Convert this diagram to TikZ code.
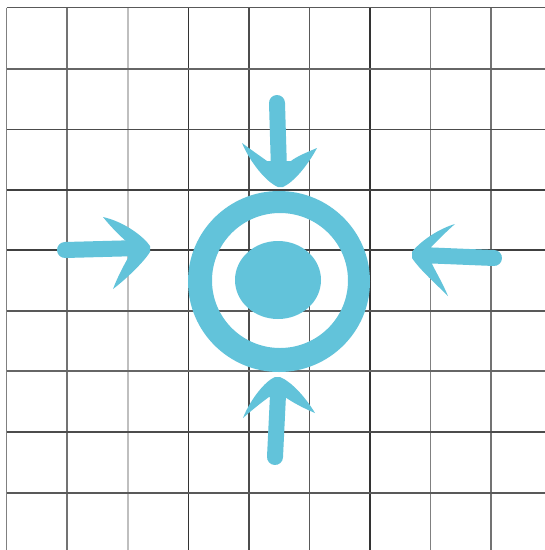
\documentclass[tikz,border=0pt]{standalone}
\definecolor{cy}{RGB}{98,195,218}
\begin{document}
\begin{tikzpicture}[x=1pt,y=-1pt,
  gridl/.style={line width=1.2pt},
  shaft/.style={cy,line width=16pt,line cap=round},
  head/.style={fill=cy}]
\useasboundingbox (0,0) rectangle (545,550);
\fill[white] (0,0) rectangle (545,550);
% grid
\foreach \x/\c in {6.5/50,67/55,128/25,188.5/80,249/70,309.5/65,370/80,430.5/50,491/55}
  \draw[gridl,black!\c] (\x,7.5) -- (\x,550);
\foreach \y/\c in {7.5/65,69/60,129.5/70,190/75,250/75,311/65,371/60,432/70,493/65}
  \draw[gridl,black!\c] (6.5,\y) -- (545,\y);
% ring
\fill[cy,even odd rule] (279,281.5) ellipse (91pt and 90.5pt) (280,280.5) ellipse (68pt and 67.5pt);
% disc
\fill[cy] (278,280) ellipse (43pt and 39pt);
% top arrow
\draw[shaft] (277,103) -- (279,170);
\fill[head] (242,143) .. controls (250,162) and (266,182) .. (278,187) -- (283,187) .. controls (294,182) and (308,165) .. (317,148) .. controls (305,153) and (296,157) .. (291,161) -- (267,161) .. controls (260,156) and (250,149) .. cycle;
% bottom arrow
\draw[shaft] (278,395) -- (275,457);
\fill[head] (243,418) .. controls (250,400) and (265,381) .. (275,377) -- (280,377) .. controls (292,382) and (306,398) .. (315,413) .. controls (303,408) and (292,402) .. (285,397) -- (269,397) .. controls (262,402) and (252,410) .. cycle;
% left arrow
\draw[shaft] (65,250) -- (140,248);
\fill[head] (103,217) .. controls (125,222) and (144,237) .. (150,246) -- (150,252) .. controls (143,263) and (125,280) .. (113,289) .. controls (118,276) and (124,265) .. (128,258) -- (127,242) .. controls (120,236) and (110,226) .. cycle;
% right arrow
\draw[shaft] (420,255) -- (494,258);
\fill[head] (455,224) .. controls (435,230) and (418,244) .. (412,252) -- (412,258) .. controls (420,270) and (437,285) .. (448,296) .. controls (443,284) and (436,272) .. (432,264) -- (430,248) .. controls (438,240) and (448,230) .. cycle;
\end{tikzpicture}
\end{document}
